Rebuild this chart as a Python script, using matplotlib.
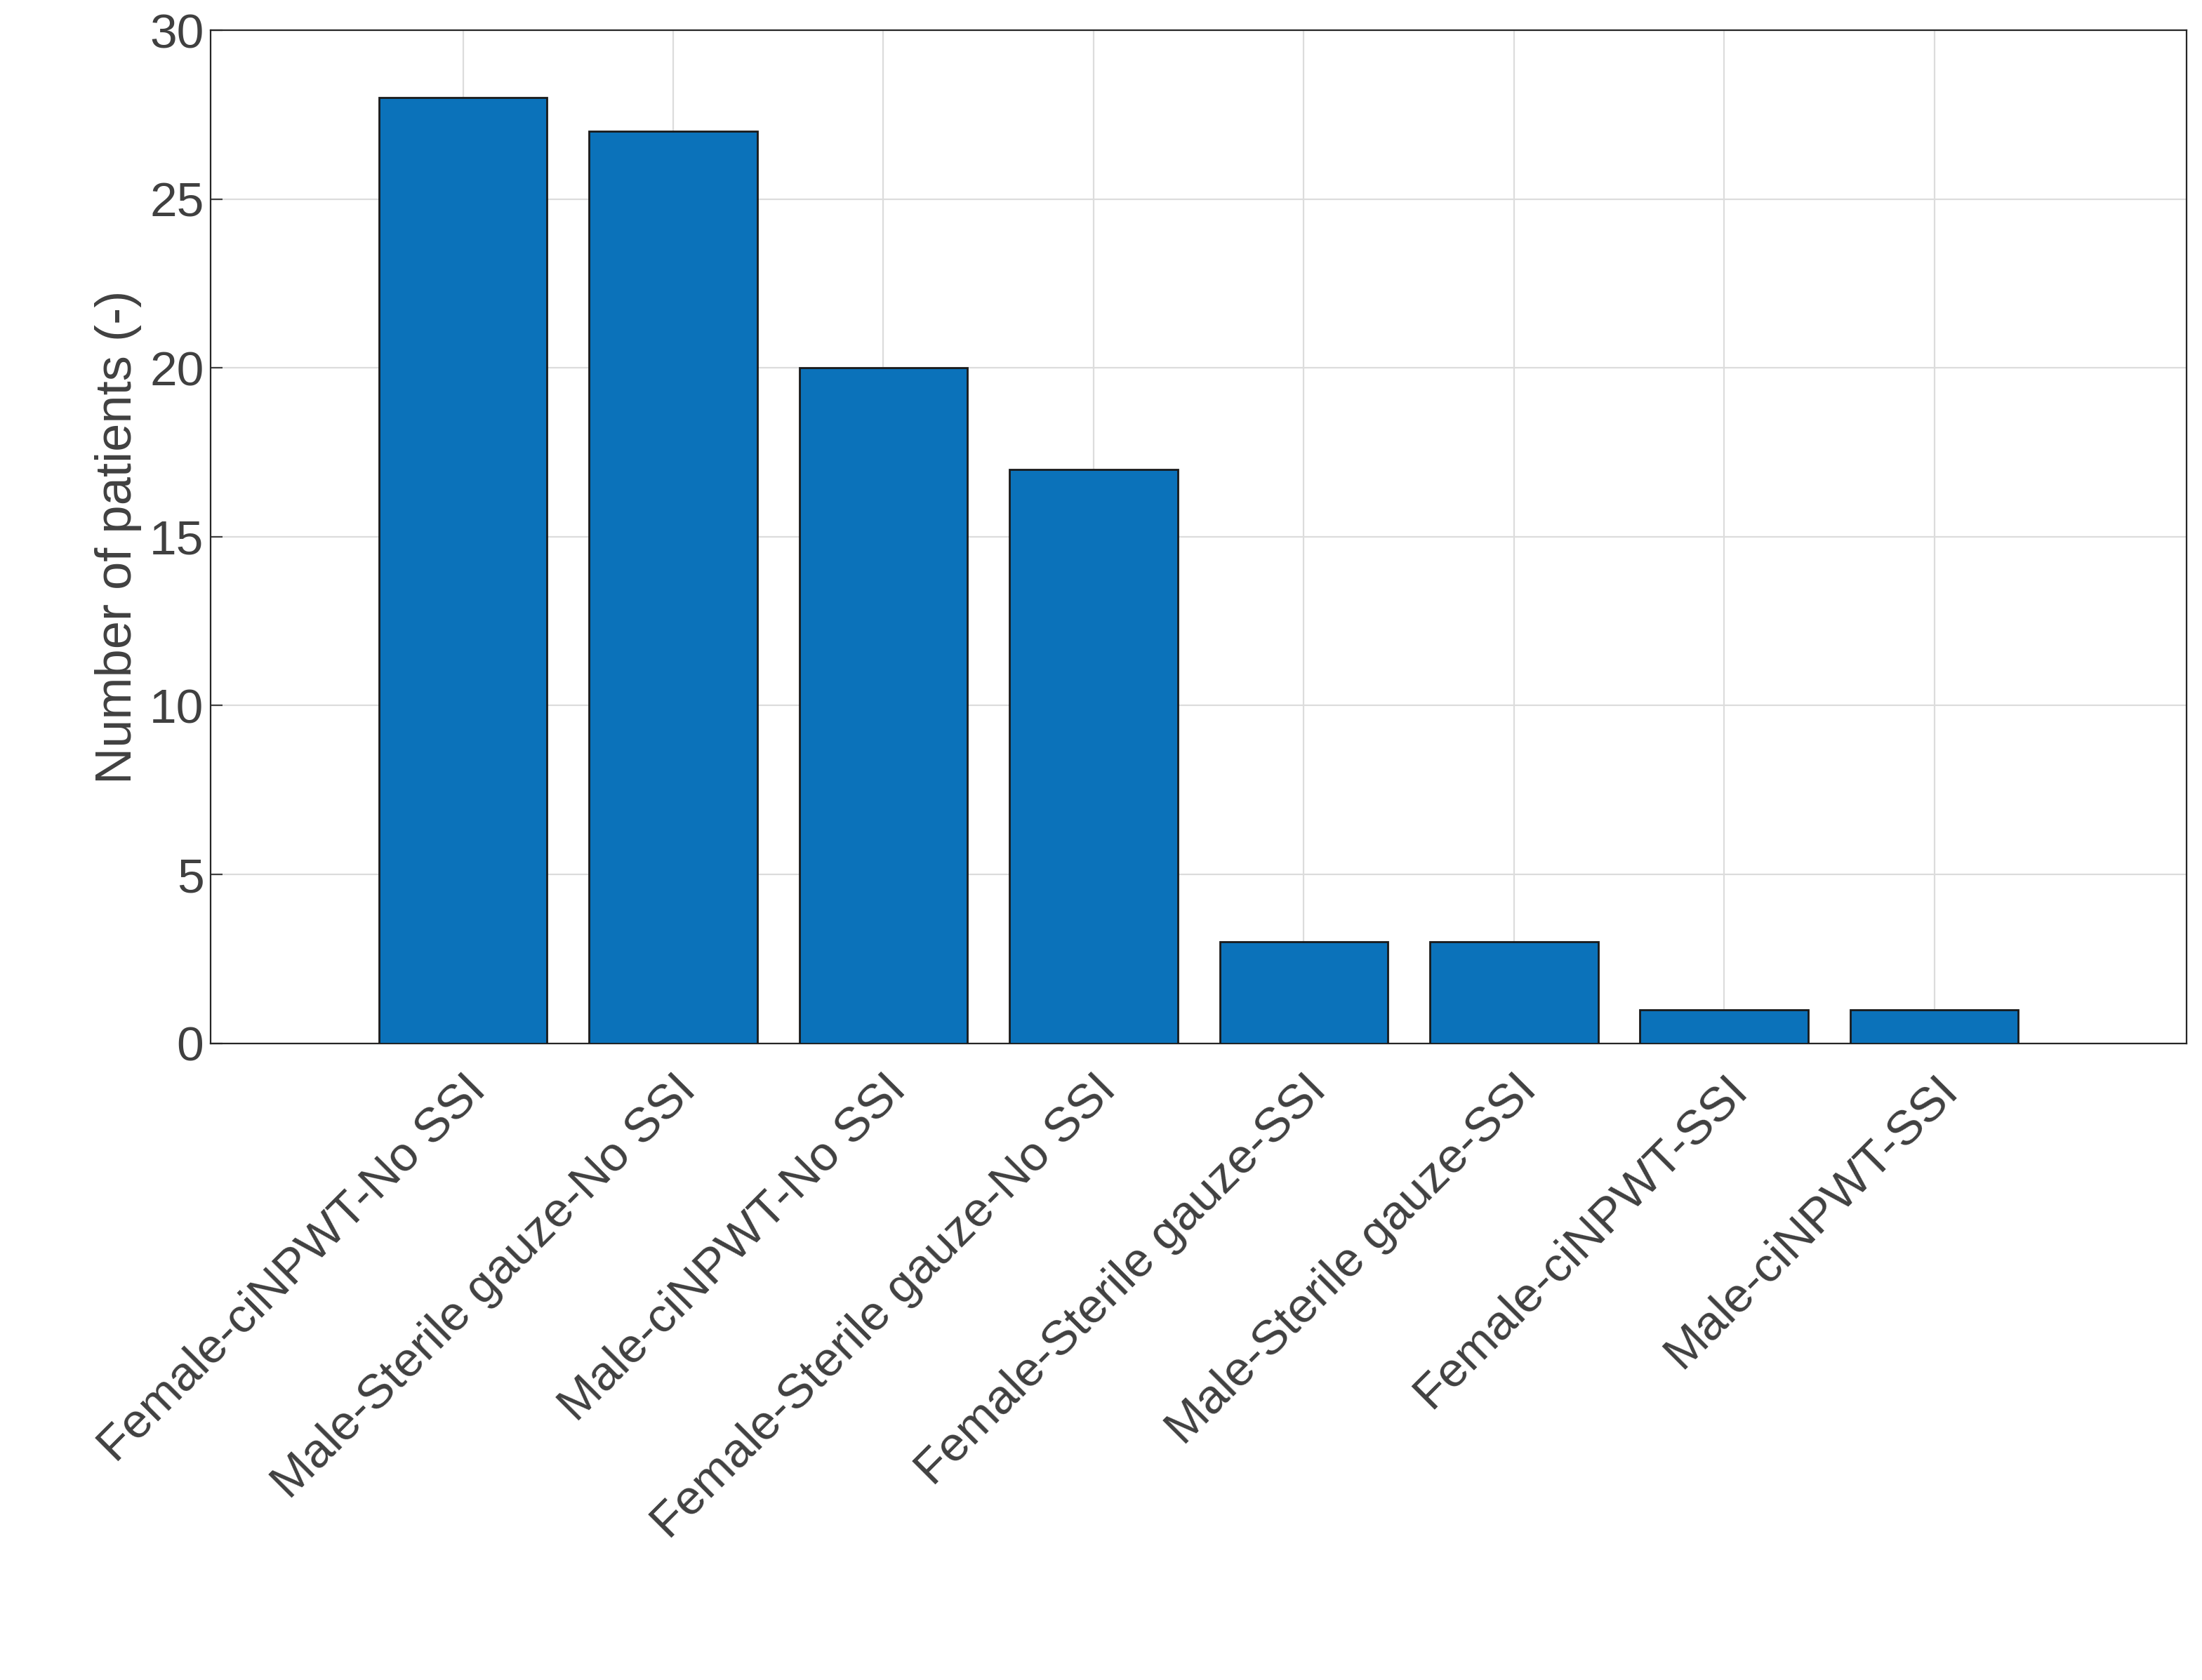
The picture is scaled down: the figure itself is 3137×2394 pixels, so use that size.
import matplotlib
matplotlib.use("Agg")
import matplotlib.pyplot as plt

categories = ["Female-ciNPWT-No SSI", "Male-Sterile gauze-No SSI", "Male-ciNPWT-No SSI",
              "Female-Sterile gauze-No SSI", "Female-Sterile gauze-SSI", "Male-Sterile gauze-SSI",
              "Female-ciNPWT-SSI", "Male-ciNPWT-SSI"]
counts = [28, 27, 20, 17, 3, 3, 1, 1]
yticks = [0, 5, 10, 15, 20, 25, 30]

plt.rcParams['font.family'] = ['Liberation Sans', 'DejaVu Sans']
tc = '#404040'
fig = plt.figure(figsize=(15.685, 11.97), dpi=200)
ax = fig.add_axes([0.0957, 0.379, 0.8973, 0.603])
x = list(range(1, len(categories) + 1))
ax.bar(x, counts, width=0.8, color='#0B72BA', edgecolor='#1a1a1a', linewidth=1.0, zorder=3)
ax.set_xlim(-0.2, 9.2)
ax.set_ylim(0, 30)
ax.set_yticks(yticks)
ax.set_xticks(x)
ax.set_xticklabels(categories, rotation=45, ha='right', rotation_mode='anchor')
ax.grid(True, color='#dcdcdc', linewidth=0.8, zorder=0)
ax.tick_params(axis='both', labelsize=25, colors=tc, direction='in', length=6, width=0.8)
ax.tick_params(axis='x', pad=12)
ax.set_ylabel('Number of patients (-)', fontsize=26, color=tc)
for s in ax.spines.values():
    s.set_color('#262626')
    s.set_linewidth(0.8)
fig.savefig('out.png', dpi=200)
